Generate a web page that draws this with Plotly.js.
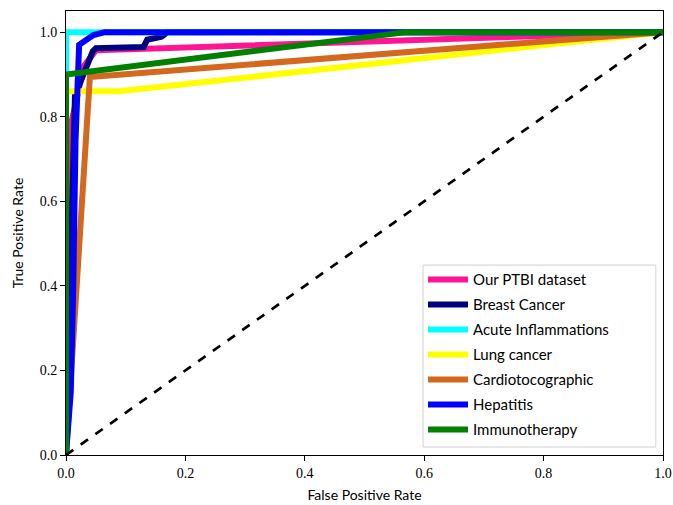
<!DOCTYPE html>
<html>
<head>
<meta charset="utf-8">
<script src="https://cdn.plot.ly/plotly-3.0.1.min.js"></script>
<style>html,body{margin:0;padding:0;background:#fff;}#chart{width:673px;height:505px;}</style>
</head>
<body>
<div id="chart"></div>
<script>
// ROC curves: false positive rate (x) and true positive rate (y)
const seriesNames = ["Our PTBI dataset", "Breast Cancer", "Acute Inflammations", "Lung cancer", "Cardiotocographic", "Hepatitis", "Immunotherapy"];
const seriesColors = ["#FF1493", "#000080", "#00FFFF", "#FFFF00", "#D2691E", "#0000FF", "#008000"];

const ptbiFpr = [0, 0.005, 0.03, 0.05, 1];
const ptbiTpr = [0, 0.76, 0.92, 0.957, 1];

const breastFpr = [0, 0.015, 0.035, 0.045, 0.05, 0.13, 0.136, 0.16, 0.17, 1];
const breastTpr = [0, 0.85, 0.92, 0.955, 0.962, 0.965, 0.982, 0.989, 1.0, 1];

const acuteFpr = [0, 0, 1];
const acuteTpr = [0, 1.0, 1];

const lungFpr = [0, 0, 0.088, 1];
const lungTpr = [0, 0.86, 0.86, 1];

const cardioFpr = [0, 0.04, 1];
const cardioTpr = [0, 0.894, 1];

const hepFpr = [0, 0.008, 0.012, 0.016, 0.022, 0.037, 0.046, 0.065, 1];
const hepTpr = [0, 0.15, 0.39, 0.745, 0.97, 0.985, 0.993, 1.0, 1];

const immunoFpr = [0, 0, 0.57, 1];
const immunoTpr = [0, 0.9, 1.0, 1];

const chanceFpr = [0, 1];
const chanceTpr = [0, 1];

const xs = [ptbiFpr, breastFpr, acuteFpr, lungFpr, cardioFpr, hepFpr, immunoFpr];
const ys = [ptbiTpr, breastTpr, acuteTpr, lungTpr, cardioTpr, hepTpr, immunoTpr];

const traces = seriesNames.map((name, i) => ({
  type: "scatter", mode: "lines", name: name, legendgroup: "g" + i,
  x: xs[i], y: ys[i],
  line: {color: seriesColors[i], width: 6}
}));
traces.push({
  type: "scatter", mode: "lines", x: chanceFpr, y: chanceTpr, showlegend: false,
  line: {color: "#000000", width: 2.7, dash: "dash"}
});

const tickFont = {family: "Liberation Serif, serif", size: 14, color: "#000"};
const titleFont = {family: "Lato, sans-serif", size: 14, color: "#000"};

const layout = {
  width: 673, height: 505,
  margin: {l: 66, r: 10, t: 11, b: 50},
  paper_bgcolor: "#fff", plot_bgcolor: "#fff",
  showlegend: true,
  xaxis: {
    range: [0, 1], tickvals: [0, 0.2, 0.4, 0.6, 0.8, 1.0], ticktext: ["0.0", "0.2", "0.4", "0.6", "0.8", "1.0"],
    showgrid: false, zeroline: false, showline: true, mirror: true, linecolor: "#000", linewidth: 1,
    ticks: "outside", ticklen: 5, tickcolor: "#000", tickfont: tickFont,
    title: {text: "False Positive Rate", font: titleFont, standoff: 10}
  },
  yaxis: {
    range: [0, 1.05], tickvals: [0, 0.2, 0.4, 0.6, 0.8, 1.0], ticktext: ["0.0", "0.2", "0.4", "0.6", "0.8", "1.0"],
    showgrid: false, zeroline: false, showline: true, mirror: true, linecolor: "#000", linewidth: 1,
    ticks: "outside", ticklen: 5, tickcolor: "#000", tickfont: tickFont,
    title: {text: "True Positive Rate", font: titleFont, standoff: 12}
  },
  legend: {
    x: 0.598, y: 0.432, xanchor: "left", yanchor: "top",
    bgcolor: "rgba(0,0,0,0)", borderwidth: 0,
    font: {family: "Lato, sans-serif", size: 15, color: "#000"},
    tracegroupgap: 2.5, itemwidth: 40
  },
  shapes: [{
    type: "rect", xref: "paper", yref: "paper", layer: "below",
    x0: 0.598, x1: 0.988, y0: 0.018, y1: 0.4278,
    line: {color: "#d0d0d0", width: 1}, fillcolor: "rgba(255,255,255,0.8)"
  }]
};

Plotly.newPlot("chart", traces, layout, {displayModeBar: false, staticPlot: true});
</script>
</body>
</html>
